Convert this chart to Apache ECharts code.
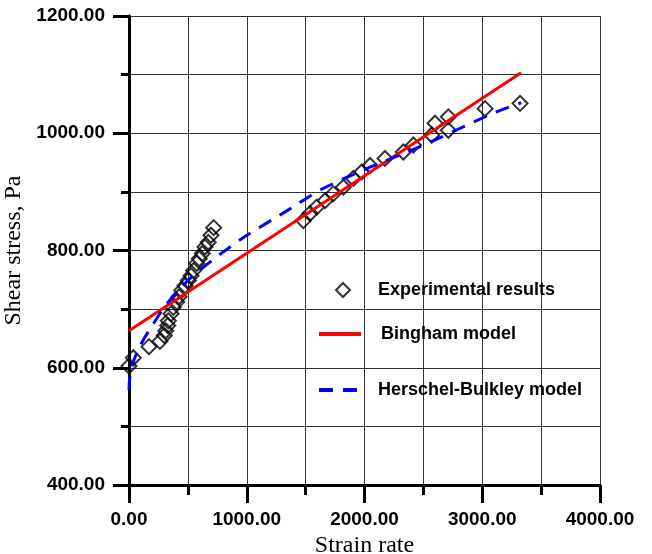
<!DOCTYPE html>
<html style="height: 100%">

<head>
    <meta charset="utf-8">
</head>

<body style="height: 100%; margin: 0; background: #fff">
    <div id="container" style="width: 652px; height: 554px"></div>

    <script type="text/javascript" src="https://cdn.jsdelivr.net/npm/echarts@6/dist/echarts.min.js"></script>

    <script type="text/javascript">
        // experimental points (strain rate, shear stress)
        var expX = [0, 37, 170, 263, 300, 312, 329, 334, 357, 376, 405, 425, 448, 476, 504, 527, 549, 575, 597, 623, 645, 673, 696, 719,
            1481, 1537, 1594, 1665, 1735, 1820, 1905, 1976, 2047, 2174, 2330, 2415, 2571, 2599, 2712, 2712, 3024, 3321];
        var expY = [603, 617, 636, 645, 655, 663, 672, 680, 692, 703, 712, 721, 732, 740, 749, 757, 766, 778, 786, 795, 806, 814, 826, 839,
            851, 863, 874, 885, 897, 908, 923, 934, 945, 957, 968, 980, 997, 1017, 1005, 1028, 1042, 1051];

        // Bingham model line ends
        var binghamX = [0, 3330];
        var binghamY = [663, 1103];

        // Herschel-Bulkley curve
        var hbX = [0, 5, 25, 93, 207, 325, 476, 660, 957, 1367, 1622, 2000, 2471, 3091, 3330];
        var hbY = [562, 580, 603, 637, 675, 710, 744, 776, 820, 871, 903, 938, 977, 1034, 1052];

        function pairs(xs, ys) {
            return xs.map(function (x, i) { return [x, ys[i]]; });
        }

        var dom = document.getElementById("container");
        var myChart = echarts.init(dom);

        var labelFont = { fontFamily: 'Liberation Sans', fontWeight: 'bold', fontSize: 19, color: '#000' };
        var nameFont = { fontFamily: 'Liberation Serif', fontSize: 24, color: '#000' };
        var gridLine = { show: true, lineStyle: { color: '#333', width: 1 } };

        var option = {
            animation: false,
            grid: { left: 129, right: 52, top: 16, bottom: 69, containLabel: false, outerBoundsMode: 'none' },
            xAxis: {
                type: 'value',
                min: 0, max: 4000, interval: 1000,
                name: 'Strain rate',
                nameLocation: 'middle',
                nameGap: 44,
                nameTextStyle: nameFont,
                axisLine: { lineStyle: { color: '#000', width: 3 } },
                axisTick: { length: 18, lineStyle: { color: '#000', width: 3 } },
                minorTick: { show: true, splitNumber: 2, length: 10, lineStyle: { color: '#000', width: 3 } },
                splitLine: gridLine,
                minorSplitLine: gridLine,
                axisLabel: Object.assign({ margin: 25, formatter: function (v) { return v.toFixed(2); } }, labelFont)
            },
            yAxis: {
                type: 'value',
                min: 400, max: 1200, interval: 200,
                name: 'Shear stress, Pa',
                nameLocation: 'middle',
                nameGap: 94,
                nameTextStyle: nameFont,
                axisLine: { lineStyle: { color: '#000', width: 3 } },
                axisTick: { length: 16, lineStyle: { color: '#000', width: 3 } },
                minorTick: { show: true, splitNumber: 2, length: 8, lineStyle: { color: '#000', width: 3 } },
                splitLine: gridLine,
                minorSplitLine: gridLine,
                axisLabel: Object.assign({ margin: 24, formatter: function (v) { return v.toFixed(2); } }, labelFont)
            },
            legend: [
                {
                    data: ['Experimental results'], selectedMode: false,
                    left: 330, top: 276, itemWidth: 14, itemHeight: 14,
                    textStyle: Object.assign({ padding: [0, 0, 0, 23] }, labelFont, { fontSize: 18 })
                },
                {
                    data: ['Bingham model'], selectedMode: false,
                    left: 312, top: 320, itemWidth: 42, itemHeight: 14,
                    itemStyle: { opacity: 0 },
                    lineStyle: { width: 4 },
                    textStyle: Object.assign({ padding: [0, 0, 0, 15] }, labelFont, { fontSize: 18 })
                },
                {
                    data: ['Herschel-Bulkley model'], selectedMode: false,
                    left: 312, top: 376, itemWidth: 43, itemHeight: 14,
                    itemStyle: { opacity: 0 },
                    lineStyle: { width: 4 },
                    textStyle: Object.assign({ padding: [0, 0, 0, 11] }, labelFont, { fontSize: 18 })
                }
            ],
            series: [
                {
                    name: 'Experimental results',
                    type: 'scatter',
                    symbol: 'diamond',
                    symbolSize: 15,
                    itemStyle: { color: 'rgba(0,0,0,0)', borderColor: '#000', borderWidth: 2 },
                    data: pairs(expX, expY)
                },
                {
                    name: 'Bingham model',
                    type: 'line',
                    symbol: 'none',
                    lineStyle: { color: '#ff0000', width: 3 },
                    itemStyle: { color: '#ff0000' },
                    data: pairs(binghamX, binghamY)
                },
                {
                    name: 'Herschel-Bulkley model',
                    type: 'line',
                    symbol: 'none',
                    smooth: 0.3,
                    lineStyle: { color: '#0000ff', width: 3, type: [14, 10] },
                    itemStyle: { color: '#0000ff' },
                    data: pairs(hbX, hbY)
                }
            ]
        };

        myChart.setOption(option);
    </script>
</body>

</html>
